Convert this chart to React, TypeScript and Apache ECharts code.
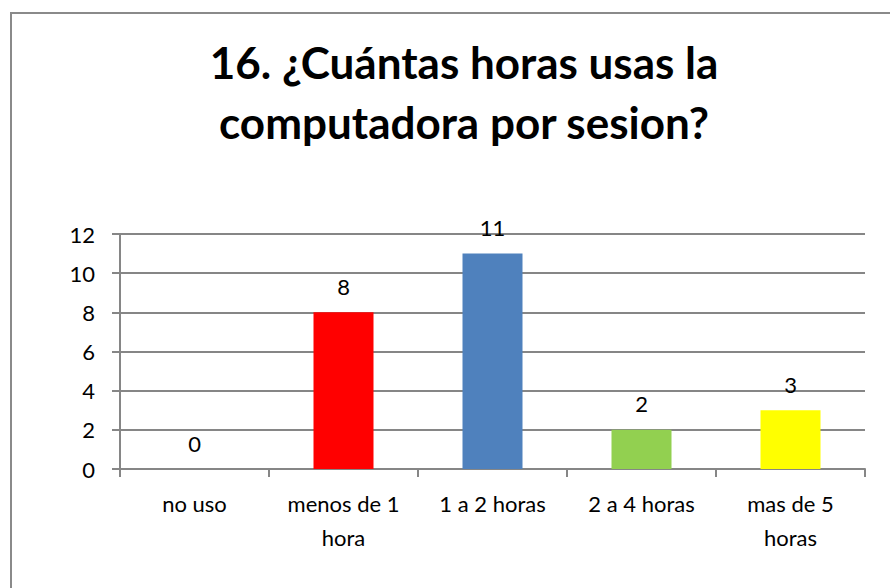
import React, { useEffect, useRef } from "react";
import * as echarts from "echarts";

const titleText = "16. ¿Cuántas horas usas la\ncomputadora por sesion?";
const categories = ["no uso", "menos de 1\nhora", "1 a 2 horas", "2 a 4 horas", "mas de 5\nhoras"];
const values = [0, 8, 11, 2, 3];
const barColors = ["#4F81BD", "#FF0000", "#4F81BD", "#92D050", "#FFFF00"];
const yTicks = { min: 0, max: 12, interval: 2 };

export default function App() {
  const ref = useRef<HTMLDivElement>(null);
  useEffect(() => {
    document.body.style.margin = "0";
    const chart = echarts.init(ref.current!, null, { renderer: "svg" });
    const font = "Lato, 'Open Sans', sans-serif";
    chart.setOption({
      animation: false,
      backgroundColor: "#fff",
      textStyle: { fontFamily: font },
      graphic: [
        {
          type: "rect",
          shape: { x: 11, y: 13, width: 900, height: 600 },
          style: { fill: "none", stroke: "#8a8a8a", lineWidth: 2 },
          silent: true,
        },
      ],
      title: {
        text: titleText,
        left: 459,
        top: 27,
        textAlign: "center",
        textStyle: { fontFamily: font, fontWeight: "bold", fontSize: 44, lineHeight: 60, color: "#000" },
      },
      grid: { left: 120, right: 25, top: 234, bottom: 119, containLabel: false },
      xAxis: {
        type: "category",
        data: categories,
        axisLine: { lineStyle: { color: "#868686", width: 2 } },
        axisTick: { show: true, length: 8, lineStyle: { color: "#868686", width: 2 } },
        axisLabel: { color: "#000", fontSize: 22, lineHeight: 34, margin: 17, interval: 0, fontFamily: font },
      },
      yAxis: {
        type: "value",
        min: yTicks.min,
        max: yTicks.max,
        interval: yTicks.interval,
        axisLine: { show: true, lineStyle: { color: "#868686", width: 2 } },
        axisTick: { show: true, length: 8, lineStyle: { color: "#868686", width: 2 } },
        axisLabel: { color: "#000", fontSize: 22, margin: 25, fontFamily: font },
        splitLine: { show: true, lineStyle: { color: "#868686", width: 2 } },
      },
      series: [
        {
          type: "bar",
          data: values.map((v, i) => ({ value: v, itemStyle: { color: barColors[i] } })),
          barWidth: 60,
          label: { show: true, position: "top", distance: 15, color: "#000", fontSize: 22, fontFamily: font },
        },
      ],
    });
    return () => chart.dispose();
  }, []);
  return <div ref={ref} style={{ width: 890, height: 588 }} />;
}
